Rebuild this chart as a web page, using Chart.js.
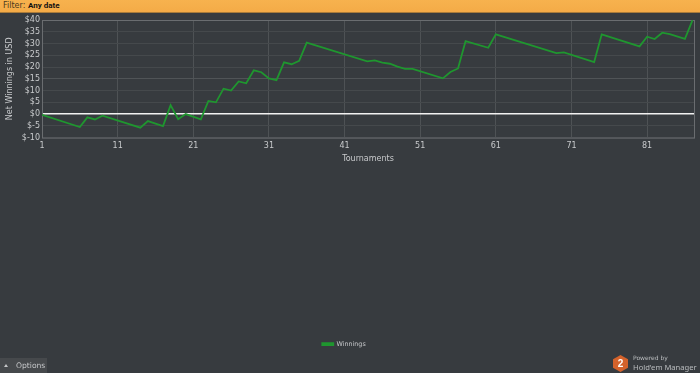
<!DOCTYPE html>
<html><head><meta charset="utf-8">
<style>
html,body{margin:0;padding:0;width:700px;height:373px;overflow:hidden;background:#373b3f;font-family:"DejaVu Sans",sans-serif}
#bar{position:absolute;left:0;top:0;height:12px;background:linear-gradient(#f7b24e,#f4ab47);border-bottom:1px solid #a97b3a;font:8px/12px "DejaVu Sans",sans-serif;color:#4a3a1e;padding-left:3px;width:697px}
#bar b{position:absolute;left:28px;top:0;color:#111;font:bold 8px/12px Roboto,sans-serif}
canvas{position:absolute;left:0;top:0}
#opt{position:absolute;left:0;top:358px;width:47px;height:15px;background:#46494c;color:#c4c6c8;font:7.6px/16px "DejaVu Sans",sans-serif}
#opt span{position:absolute;left:16px;top:0}
#opt i{position:absolute;left:4px;top:6px;width:0;height:0;border-left:2.5px solid transparent;border-right:2.5px solid transparent;border-bottom:3px solid #c4c6c8}
#logo{position:absolute;left:613px;top:353px;width:87px;height:20px;color:#b9bcbe}
#logo svg{position:absolute;left:0;top:2px}
#logo .a{position:absolute;left:20px;top:0;font:6px/10px "DejaVu Sans",sans-serif;white-space:nowrap}
#logo .b{position:absolute;left:20px;top:9px;font:7.6px/11px "Noto Sans",sans-serif;white-space:nowrap}
#logo .n{position:absolute;left:0;top:3px;width:15px;text-align:center;color:#fff;font:bold 10px/16px "Liberation Sans",sans-serif}
</style>
<script src="https://cdn.jsdelivr.net/npm/chart.js@4/dist/chart.umd.min.js"></script>
</head><body>
<canvas id="c" width="700" height="373"></canvas>
<div id="bar">Filter: <b>Any date</b></div>
<div id="opt"><i></i><span>Options</span></div>
<div id="logo"><svg width="15" height="17" viewBox="0 0 15 17"><polygon points="7.5,0 15,4.2 15,12.8 7.5,17 0,12.8 0,4.2" fill="#d4622b"/></svg><div class="n">2</div><div class="a">Powered by</div><div class="b">Hold'em Manager</div></div>
<script>
const tournaments=[1,6,7,8,9,14,15,17,18,19,20,22,23,24,25,26,27,28,29,30,31,32,33,34,35,36,44,45,46,47,48,49,50,54,55,56,57,60,61,69,70,74,75,80,81,82,83,84,86,87];
const winnings=[-0.3,-5.5,-1.4,-2.3,-0.7,-5.8,-3,-5.1,3.8,-2.2,0,-2.2,5.6,5,10.8,10,13.9,13.1,18.6,17.8,15.2,14.4,22,21.2,22.6,30.4,22.4,22.8,21.9,21.4,20.2,19.2,19.2,15.2,17.9,19.4,31,28.2,33.9,25.9,26.2,22.1,33.9,28.8,32.9,31.9,34.6,34,32,39.9];
const xTicks=[1,11,21,31,41,51,61,71,81];
const yTicks=[-10,-5,0,5,10,15,20,25,30,35,40];
const seriesName="Winnings";
const xTitle="Tournaments", yTitle="Net Winnings in USD";
const GREEN="#1f962f", TXT="#c8cacc", GRID="#45494c", VGRID="#4e5255", EDGE="#6a6d70";
const frame={id:"frame",
  afterLayout(ch){const l=ch.legend,dy=337-l.top;l.top+=dy;l.bottom+=dy;l.left-=3;l.right-=3;(l.legendHitBoxes||[]).forEach(b=>b.top+=dy);},
  beforeDatasetsDraw(ch){const a=ch.chartArea,g=ch.ctx;g.save();g.strokeStyle=EDGE;g.lineWidth=1;
    g.strokeRect(a.left+.5,a.top+.5,a.right-a.left,a.bottom-a.top);g.restore();}
};
new Chart(document.getElementById("c"),{
  type:"line",
  data:{datasets:[{label:seriesName,data:tournaments.map((x,i)=>({x,y:winnings[i]})),borderColor:GREEN,backgroundColor:GREEN,borderWidth:1.8,pointRadius:0,tension:0,order:0}]},
  plugins:[frame],
  options:{responsive:false,animation:false,
    layout:{padding:{left:0,right:6,top:20,bottom:189}},
    plugins:{tooltip:{enabled:false},
      legend:{position:"bottom",labels:{color:TXT,font:{family:"DejaVu Sans",size:6.4},boxWidth:11,boxHeight:2,padding:4}}},
    scales:{
      x:{type:"linear",min:1,max:87.2,
        afterFit(s){s.height=26;},
        afterBuildTicks(s){s.ticks=xTicks.map(value=>({value}));},
        grid:{color:VGRID,lineWidth:1,drawTicks:false},border:{display:false},
        ticks:{autoSkip:false,maxRotation:0,color:TXT,padding:4,font:{family:"DejaVu Sans",size:8}},
        title:{display:true,text:xTitle,color:TXT,padding:{top:4,bottom:0},font:{family:"DejaVu Sans",size:8}}},
      y:{min:-10,max:40,
        afterFit(s){s.width=42;},
        afterBuildTicks(s){s.ticks=yTicks.map(value=>({value}));},
        grid:{color:c=>c.tick.value===0?"#f2f2f2":(c.tick.value===15?"#505457":GRID),lineWidth:c=>c.tick.value===0?1.6:1,drawTicks:false,z:0},border:{display:false},
        ticks:{autoSkip:false,color:TXT,padding:2,callback:v=>"$"+v,font:{family:"DejaVu Sans",size:8}},
        title:{display:true,text:yTitle,color:TXT,padding:{top:5,bottom:3},font:{family:"DejaVu Sans",size:8}}}
    }}
});
</script>
</body></html>
